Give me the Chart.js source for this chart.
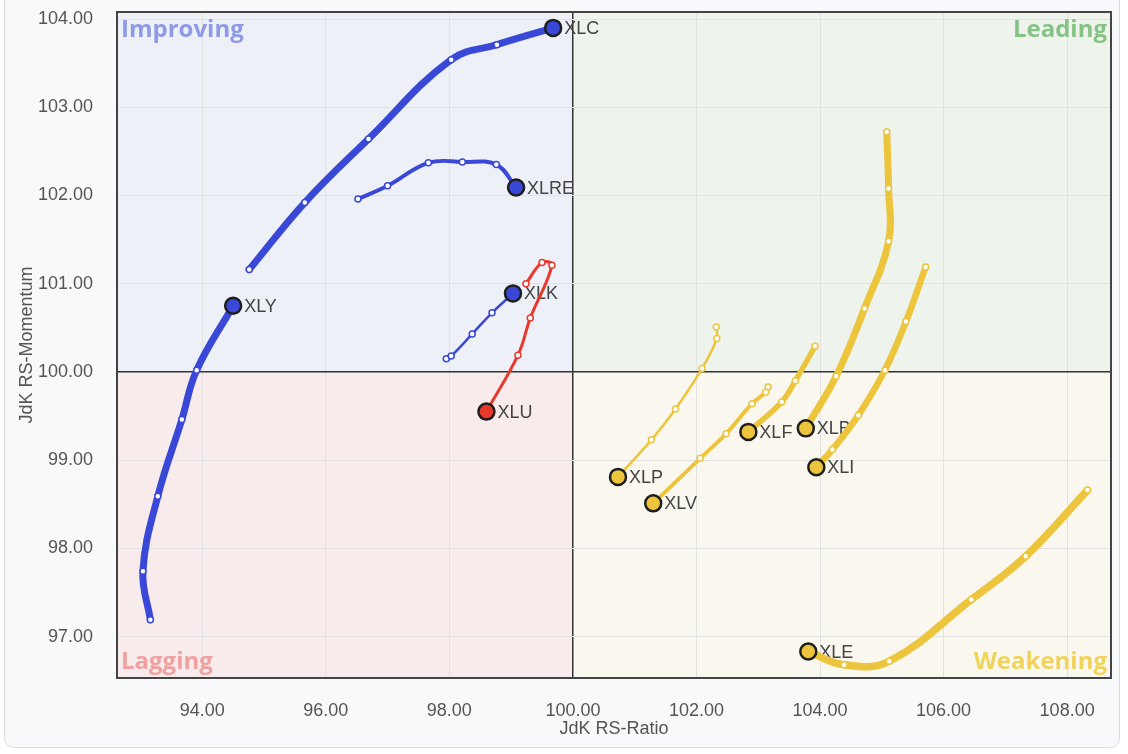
<!DOCTYPE html>
<html>
<head>
<meta charset="utf-8">
<script src="https://cdn.jsdelivr.net/npm/chart.js@4"></script>
<style>
  html, body { margin: 0; padding: 0; background: #fff; }
  .card {
    position: absolute; left: 4px; top: -10px; width: 1116px; height: 758px;
    background: #f8f9fa; border: 1.5px solid #dcdcdc; border-radius: 10px;
    box-sizing: border-box;
  }
  .wrap { position: absolute; left: 0; top: 0; width: 1128px; height: 754px; }
</style>
</head>
<body>
<div class="card"></div>
<div class="wrap"><canvas id="rrg"></canvas></div>
<script>
// tick labels
const xTicks = [94, 96, 98, 100, 102, 104, 106, 108];
const yTicks = [97, 98, 99, 100, 101, 102, 103, 104];

// sector tails, oldest point first, head last
const tickers = ["XLC", "XLRE", "XLK", "XLU", "XLY", "XLP", "XLV", "XLF", "XLB", "XLI", "XLE"];

const xlcRatio = [94.76, 95.66, 96.69, 98.03, 98.77, 99.68];
const xlcMomentum = [101.16, 101.92, 102.64, 103.54, 103.71, 103.9];

const xlreRatio = [96.52, 97.0, 97.66, 98.21, 98.76, 99.08];
const xlreMomentum = [101.96, 102.11, 102.37, 102.38, 102.35, 102.09];

const xlkRatio = [97.95, 98.03, 98.37, 98.69, 99.03];
const xlkMomentum = [100.15, 100.18, 100.43, 100.67, 100.89];

const xluRatio = [99.24, 99.5, 99.66, 99.31, 99.11, 98.6];
const xluMomentum = [101.0, 101.24, 101.21, 100.61, 100.19, 99.55];

const xlyRatio = [93.16, 93.04, 93.28, 93.67, 93.91, 94.5];
const xlyMomentum = [97.19, 97.74, 98.59, 99.46, 100.02, 100.75];

const xlpRatio = [102.32, 102.33, 102.09, 101.66, 101.27, 100.73];
const xlpMomentum = [100.51, 100.38, 100.04, 99.58, 99.23, 98.81];

const xlvRatio = [103.16, 103.12, 102.9, 102.48, 102.06, 101.3];
const xlvMomentum = [99.83, 99.77, 99.64, 99.3, 99.02, 98.51];

const xlfRatio = [103.92, 103.6, 103.38, 102.84];
const xlfMomentum = [100.29, 99.9, 99.66, 99.32];

const xlbRatio = [105.08, 105.11, 105.11, 104.72, 104.26, 103.77];
const xlbMomentum = [102.72, 102.08, 101.48, 100.72, 99.95, 99.36];

const xliRatio = [105.71, 105.39, 105.05, 104.62, 104.2, 103.94];
const xliMomentum = [101.19, 100.57, 100.02, 99.51, 99.12, 98.92];

const xleRatio = [108.33, 107.33, 106.45, 105.12, 104.39, 103.81];
const xleMomentum = [98.66, 97.91, 97.42, 96.72, 96.68, 96.83];

const ratios = [xlcRatio, xlreRatio, xlkRatio, xluRatio, xlyRatio, xlpRatio, xlvRatio, xlfRatio, xlbRatio, xliRatio, xleRatio];
const momentums = [xlcMomentum, xlreMomentum, xlkMomentum, xluMomentum, xlyMomentum, xlpMomentum, xlvMomentum, xlfMomentum, xlbMomentum, xliMomentum, xleMomentum];

const BLUE = "#3a48d8";
const RED = "#e8392c";
const YELLOW = "#ecc53c";
const colors = [BLUE, BLUE, BLUE, RED, BLUE, YELLOW, YELLOW, YELLOW, YELLOW, YELLOW, YELLOW];
const widths = [7, 4, 2.5, 3, 7, 2.5, 4, 5.5, 7, 6.5, 7.5];

const datasets = tickers.map((name, i) => {
  const last = ratios[i].length - 1;
  const isHead = (c) => c.dataIndex === last;
  return {
    label: name,
    data: ratios[i].map((x, j) => ({ x: x, y: momentums[i][j] })),
    showLine: true,
    tension: 0.4,
    borderColor: colors[i],
    borderWidth: widths[i],
    borderCapStyle: "round",
    borderJoinStyle: "round",
    pointRadius: (c) => (isHead(c) ? 8 : 3),
    pointBackgroundColor: (c) => (isHead(c) ? colors[i] : "#fff"),
    pointBorderColor: (c) => (isHead(c) ? "#1e1e1e" : colors[i]),
    pointBorderWidth: (c) => (isHead(c) ? 2.5 : 1.5),
  };
});

const quadrants = {
  id: "quadrants",
  beforeDraw(chart) {
    const { ctx, chartArea: a, scales } = chart;
    const cx = scales.x.getPixelForValue(100);
    const cy = scales.y.getPixelForValue(100);
    ctx.save();
    ctx.fillStyle = "#eef0f8";
    ctx.fillRect(a.left, a.top, cx - a.left, cy - a.top);
    ctx.fillStyle = "#eef3ec";
    ctx.fillRect(cx, a.top, a.right - cx, cy - a.top);
    ctx.fillStyle = "#f7eceb";
    ctx.fillRect(a.left, cy, cx - a.left, a.bottom - cy);
    ctx.fillStyle = "#faf7ef";
    ctx.fillRect(cx, cy, a.right - cx, a.bottom - cy);
    ctx.restore();
  },
  beforeDatasetsDraw(chart) {
    const { ctx, chartArea: a } = chart;
    ctx.save();
    ctx.strokeStyle = "#444";
    ctx.lineWidth = 2;
    ctx.strokeRect(a.left, a.top, a.right - a.left, a.bottom - a.top);

    ctx.font = "bold 24px 'Open Sans'";
    ctx.textBaseline = "alphabetic";
    ctx.fillStyle = "#8f9ae6";
    ctx.textAlign = "left";
    ctx.fillText("Improving", a.left + 4, a.top + 25);
    ctx.fillStyle = "#86c286";
    ctx.textAlign = "right";
    ctx.fillText("Leading", a.right - 4, a.top + 25);
    ctx.fillStyle = "#f0a0a0";
    ctx.textAlign = "left";
    ctx.fillText("Lagging", a.left + 4, a.bottom - 9);
    ctx.fillStyle = "#f0d35a";
    ctx.textAlign = "right";
    ctx.fillText("Weakening", a.right - 4, a.bottom - 9);

    // sector names beside the heads
    ctx.font = "18px 'Liberation Sans'";
    ctx.fillStyle = "#444";
    ctx.textAlign = "left";
    ctx.textBaseline = "middle";
    chart.data.datasets.forEach((ds, i) => {
      const pts = chart.getDatasetMeta(i).data;
      const head = pts[pts.length - 1];
      ctx.fillText(ds.label, head.x + 11, head.y + 1);
    });
    ctx.restore();
  },
};

const gridColor = (c) => (c.tick && c.tick.value === 100 ? "#333" : "#e2e2e2");
const gridWidth = (c) => (c.tick && c.tick.value === 100 ? 1.5 : 1);
const textFont = { family: "'Liberation Sans'", size: 18 };

new Chart(document.getElementById("rrg"), {
  type: "scatter",
  data: { datasets: datasets },
  options: {
    responsive: true,
    maintainAspectRatio: false,
    animation: false,
    layout: { padding: { left: 12, right: 17, top: 12, bottom: 11 } },
    plugins: { legend: { display: false }, tooltip: { enabled: false } },
    scales: {
      x: {
        type: "linear",
        min: 92.62,
        max: 108.71,
        afterBuildTicks: (s) => { s.ticks = xTicks.map((v) => ({ value: v })); },
        afterFit: (s) => { s.height = 65; s.paddingLeft = 0; s.paddingRight = 0; },
        border: { display: false },
        grid: { drawTicks: false, color: gridColor, lineWidth: gridWidth },
        ticks: { padding: 22, color: "#555", font: textFont, callback: (v) => Number(v).toFixed(2) },
        title: { display: true, text: "JdK RS-Ratio", color: "#555", font: textFont, padding: { top: 0, bottom: 3 } },
      },
      y: {
        type: "linear",
        min: 96.53,
        max: 104.08,
        afterBuildTicks: (s) => { s.ticks = yTicks.map((v) => ({ value: v })); },
        afterFit: (s) => { s.width = 105; s.paddingTop = 0; s.paddingBottom = 0; },
        border: { display: false },
        grid: { drawTicks: false, color: gridColor, lineWidth: gridWidth },
        ticks: { padding: 24, color: "#555", font: textFont, callback: (v) => Number(v).toFixed(2) },
        title: { display: true, text: "JdK RS-Momentum", color: "#555", font: textFont, padding: { top: 4, bottom: 4 } },
      },
    },
  },
  plugins: [quadrants],
});
</script>
</body>
</html>
